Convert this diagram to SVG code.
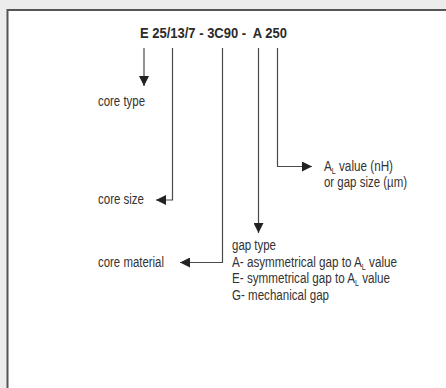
<svg xmlns="http://www.w3.org/2000/svg" width="446" height="388" viewBox="0 0 446 388">
  <style>
    .lbl { font-family: "Liberation Sans", Arial, sans-serif; font-size: 14px; fill: #333; }
    .title { font-family: "Liberation Sans", Arial, sans-serif; font-size: 15.5px; font-weight: bold; fill: #2b2b2b; white-space: pre; }
    .ln { fill: none; stroke: #4a4a4a; stroke-width: 1.2; }
    .sub { font-size: 8.5px; }
  </style>
  <defs>
    <marker id="ah" viewBox="0 0 10 10" refX="10" refY="5" markerWidth="10" markerHeight="10" markerUnits="userSpaceOnUse" orient="auto">
      <path d="M0,0 L10,5 L0,10 Z" fill="#222"/>
    </marker>
  </defs>
  <rect x="0" y="0" width="446" height="388" fill="#ebeceb"/>
  <rect x="7.5" y="10" width="460" height="400" fill="#ffffff" stroke="#555" stroke-width="2"/>

  <g id="title">
    <text class="title" x="140" y="38" textLength="147" lengthAdjust="spacingAndGlyphs">E 25/13/7 - 3C90 -  A 250</text>
  </g>

  <g id="connectors">
    <line class="ln" x1="144" y1="48" x2="144" y2="86" marker-end="url(#ah)"/>
    <polyline class="ln" points="172.5,48 172.5,200 156,200" marker-end="url(#ah)"/>
    <polyline class="ln" points="222.5,48 222.5,262.5 180,262.5" marker-end="url(#ah)"/>
    <line class="ln" x1="258.5" y1="48" x2="258.5" y2="233" marker-end="url(#ah)"/>
    <polyline class="ln" points="277.5,48 277.5,166.5 312,166.5" marker-end="url(#ah)"/>
  </g>

  <g id="core-type">
    <text class="lbl" x="98" y="106" textLength="47" lengthAdjust="spacingAndGlyphs">core type</text>
  </g>
  <g id="core-size">
    <text class="lbl" x="98" y="203.5" textLength="46" lengthAdjust="spacingAndGlyphs">core size</text>
  </g>
  <g id="core-material">
    <text class="lbl" x="98" y="267" textLength="66" lengthAdjust="spacingAndGlyphs">core material</text>
  </g>
  <g id="al-value">
    <text class="lbl" x="324" y="171" textLength="69" lengthAdjust="spacingAndGlyphs">A<tspan class="sub" dy="3">L</tspan><tspan dy="-3"> value (nH)</tspan></text>
    <text class="lbl" x="324" y="187" textLength="83" lengthAdjust="spacingAndGlyphs">or gap size (µm)</text>
  </g>
  <g id="gap-type">
    <text class="lbl" x="232" y="249.5" textLength="44" lengthAdjust="spacingAndGlyphs">gap type</text>
    <text class="lbl" x="232" y="266.5" textLength="165" lengthAdjust="spacingAndGlyphs">A- asymmetrical gap to A<tspan class="sub" dy="3">L</tspan><tspan dy="-3"> value</tspan></text>
    <text class="lbl" x="232" y="283" textLength="158" lengthAdjust="spacingAndGlyphs">E- symmetrical gap to A<tspan class="sub" dy="3">L</tspan><tspan dy="-3"> value</tspan></text>
    <text class="lbl" x="232" y="299.5" textLength="97" lengthAdjust="spacingAndGlyphs">G- mechanical gap</text>
  </g>
</svg>
